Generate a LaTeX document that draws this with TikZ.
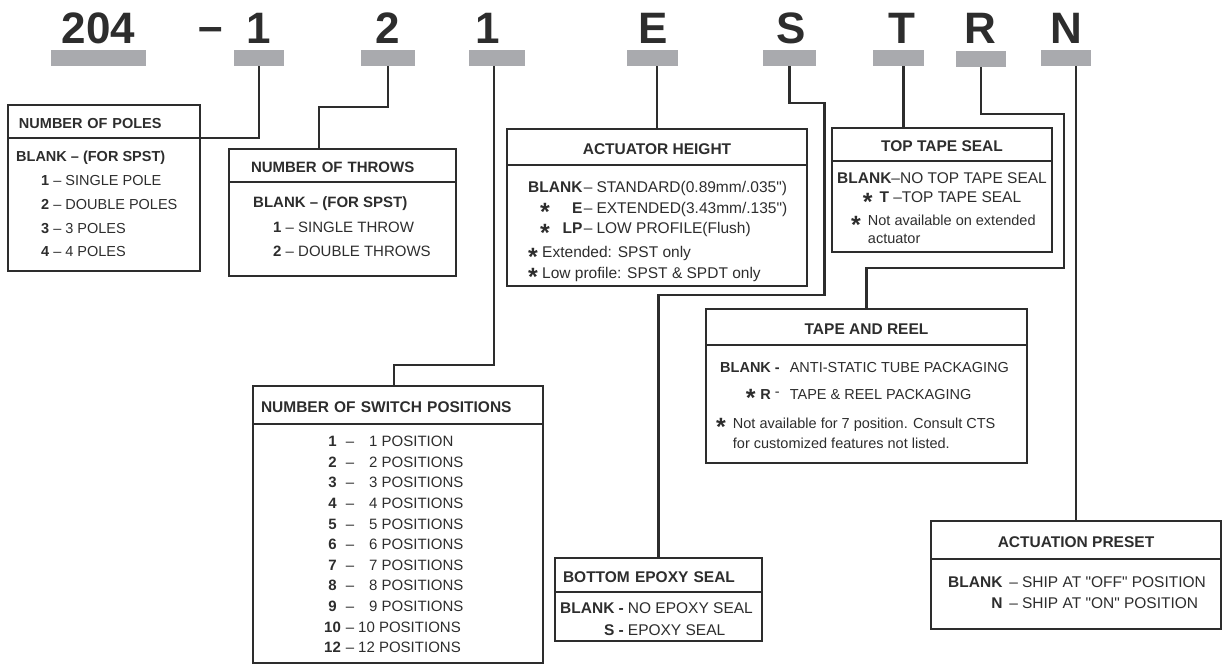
\documentclass[tikz,border=0pt]{standalone}
\usepackage{fontspec}
\setmainfont{Liberation Sans}[Ligatures=TeXOff]
\usetikzlibrary{positioning}
\definecolor{ink}{RGB}{45,45,45}
\definecolor{bargray}{RGB}{169,170,174}
\newcommand{\fs}[2]{\fontsize{#1}{#2}\selectfont}
\newcommand{\mystar}{{\fs{25}{25}\bfseries\smash{\raisebox{-7.5pt}{*}}}}
\newcommand{\qt}{\char34\relax}

\begin{document}
\begin{tikzpicture}[x=1pt, y=-1pt, ink,
  code/.style={font=\bfseries\fs{44}{44}, anchor=base, inner sep=0pt},
  bar/.style={fill=bargray, minimum height=16, inner sep=0pt, outer sep=0pt, anchor=north},
  wire/.style={line width=2.2pt},
  head/.style={draw, line width=2.2pt, outer sep=0pt, inner sep=0pt, anchor=north west, font=\bfseries\fs{15.5}{18}, text height=14pt, text depth=0pt},
  lhead/.style={head, align=left},
  body/.style={draw, line width=2.2pt, outer sep=0pt, inner sep=0pt, anchor=north},
  txt/.style={inner sep=0pt, anchor=north west}]
\useasboundingbox (0,0) rectangle (1223,664);

\foreach \n/\x/\y/\t in {c204/98.5/43/204, cdash/210.5/41/–, c1/259/43/1, c2/388/43/2, c3/488/43/1,
    cE/653.5/43/E, cS/791/43/S, cT/901.5/43/T, cR/980/43/R, cN/1066/43/N}
  \node[code] (\n) at (\x,\y) {\t};
\foreach \n/\x/\w/\y in {b204/98.5/95/50, b1/259/50/50, b2/388/54/50, b3/497/56/50, bE/652.5/51/50,
    bS/789.5/53/50, bT/898.5/51/50, bR/981/50/51, bN/1066/50/50}
  \node[bar, minimum width=\w] (\n) at (\x,\y) {};

\node[lhead, minimum width=192, minimum height=33, text width=170, inner xsep=11, font=\bfseries\fs{14.5}{18}] (polesH) at (8,105) {NUMBER OF POLES};
\node[body, minimum width=192, minimum height=133] (polesB) at (polesH.south) {};
\node[txt, font=\fs{14.5}{23.75}] (polesT) at (16,145) {\begin{tabular}{@{}l@{}}
  \textbf{BLANK – (FOR SPST)}\\
  \hspace*{25pt}\textbf{1} – SINGLE POLE\\
  \hspace*{25pt}\textbf{2} – DOUBLE POLES\\
  \hspace*{25pt}\textbf{3} – 3 POLES\\
  \hspace*{25pt}\textbf{4} – 4 POLES
\end{tabular}};

\node[lhead, minimum width=227, minimum height=33, text width=183, inner xsep=22, font=\bfseries\fs{15}{18}] (throwsH) at (229,149) {NUMBER OF THROWS};
\node[body, minimum width=227, minimum height=94] (throwsB) at (throwsH.south) {};
\node[txt, font=\fs{15}{24.5}] (throwsT) at (253,190.4) {\begin{tabular}{@{}l@{}}
  \textbf{BLANK – (FOR SPST)}\\
  \hspace*{20pt}\textbf{1} – SINGLE THROW\\
  \hspace*{20pt}\textbf{2} – DOUBLE THROWS
\end{tabular}};

\node[head, minimum width=300, minimum height=36] (actH) at (507,129) {ACTUATOR HEIGHT};
\node[body, minimum width=300, minimum height=121] (actB) at (actH.south) {};
\node[txt, font=\fs{15.5}{20.5}] (actT) at (528,178.2) {\begin{tabular}{@{}l@{}r@{\hspace{1.5pt}–\hspace{4pt}}l@{}}
  \multicolumn{2}{@{}r@{\hspace{1.5pt}–\hspace{4pt}}}{\textbf{BLANK}} & STANDARD(0.89mm/.035\qt)\\
  \hspace*{12pt}\mystar & \textbf{E} & EXTENDED(3.43mm/.135\qt)\\
  \hspace*{12pt}\mystar & \textbf{LP} & LOW PROFILE(Flush)\\[3.5pt]
  \multicolumn{3}{@{}l@{}}{\mystar\ Extended: SPST only}\\
  \multicolumn{3}{@{}l@{}}{\mystar\ Low profile: SPST \& SPDT only}
\end{tabular}};

\node[head, minimum width=220, minimum height=33] (topH) at (832,128) {TOP TAPE SEAL};
\node[body, minimum width=220, minimum height=91] (topB) at (topH.south) {};
\node[inner sep=0pt, anchor=north, font=\fs{15.5}{19}] (topT) at (942,170.2) {\begin{tabular}{@{}c@{}}
  \textbf{BLANK}–NO TOP TAPE SEAL\\
  \mystar\hspace{7pt}\textbf{T} –TOP TAPE SEAL
\end{tabular}};
\node[txt, font=\fs{14.5}{18}] (topN) at (851,212.8) {\begin{tabular}{@{}l@{\hspace{7pt}}l@{}}
  \mystar & Not available on extended\\
  & actuator
\end{tabular}};

\node[head, minimum width=321, minimum height=36] (reelH) at (706,309) {TAPE AND REEL};
\node[body, minimum width=321, minimum height=118] (reelB) at (reelH.south) {};
\node[txt, font=\fs{14.5}{27}] (reelT) at (720,353.3) {\begin{tabular}{@{}r@{\hspace{10pt}}l@{}}
  \textbf{BLANK -} & ANTI-STATIC TUBE PACKAGING\\
  \mystar\hspace{5pt}\textbf{R} \raisebox{2.5pt}{-} & TAPE \& REEL PACKAGING
\end{tabular}};
\node[txt, font=\fs{14.5}{20}] (reelN) at (716,414.2) {\begin{tabular}{@{}l@{\hspace{7pt}}l@{}}
  \mystar & Not available for 7 position. Consult CTS\\
  & for customized features not listed.
\end{tabular}};

\node[lhead, minimum width=290, minimum height=38, text width=274, inner xsep=8] (swH) at (253,386) {NUMBER OF SWITCH POSITIONS};
\node[body, minimum width=290, minimum height=239] (swB) at (swH.south) {};
\node[txt, font=\fs{15}{20.6}] (swT) at (324,432) {\begin{tabular}{@{}c@{\hspace{5pt}–\hspace{4pt}}l@{}}
  \textbf{1} & \hspace*{11pt}1 POSITION\\
  \textbf{2} & \hspace*{11pt}2 POSITIONS\\
  \textbf{3} & \hspace*{11pt}3 POSITIONS\\
  \textbf{4} & \hspace*{11pt}4 POSITIONS\\
  \textbf{5} & \hspace*{11pt}5 POSITIONS\\
  \textbf{6} & \hspace*{11pt}6 POSITIONS\\
  \textbf{7} & \hspace*{11pt}7 POSITIONS\\
  \textbf{8} & \hspace*{11pt}8 POSITIONS\\
  \textbf{9} & \hspace*{11pt}9 POSITIONS\\
  \textbf{10} & 10 POSITIONS\\
  \textbf{12} & 12 POSITIONS
\end{tabular}};

\node[lhead, minimum width=207, minimum height=34, text width=191, inner xsep=8] (epoxyH) at (555,558) {BOTTOM EPOXY SEAL};
\node[body, minimum width=207, minimum height=49] (epoxyB) at (epoxyH.south) {};
\node[txt, font=\fs{15.5}{22}] (epoxyT) at (560,598.1) {\begin{tabular}{@{}r@{\hspace{4pt}}l@{}}
  \textbf{BLANK -} & NO EPOXY SEAL\\
  \textbf{S -} & EPOXY SEAL
\end{tabular}};

\node[head, minimum width=290, minimum height=38] (actnH) at (931,521) {ACTUATION PRESET};
\node[body, minimum width=290, minimum height=70] (actnB) at (actnH.south) {};
\node[txt, font=\fs{15.5}{21}] (actnT) at (948,573) {\begin{tabular}{@{}r@{\hspace{7pt}–\hspace{4pt}}l@{}}
  \textbf{BLANK} & SHIP AT \qt OFF\qt{} POSITION\\
  \textbf{N} & SHIP AT \qt ON\qt{} POSITION
\end{tabular}};

\draw[wire] (b1.south) |- (polesH.south east);
\draw[wire] (b2.south) -- ++(0,41) -| ([xshift=-23.5pt]throwsH.north);
\draw[wire] ([xshift=-3pt]b3.south) -- ++(0,299) -| ([xshift=-4pt]swH.north);
\draw[wire] (bE.south -| actH.north) -- (actH.north);
\draw[wire] (bS.south) -- ++(0,37) -- ++(35,0) -- ++(0,192) -| (epoxyH.north);
\draw[wire] ([xshift=5pt]bT.south) -- ([xshift=5pt]bT.south |- topH.north);
\draw[wire] (bR.south) -- ++(0,47) -- ++(83,0) -- ++(0,154) -| (reelH.north);
\draw[wire] (bN.south -| actnH.north) -- (actnH.north);
\end{tikzpicture}
\end{document}
